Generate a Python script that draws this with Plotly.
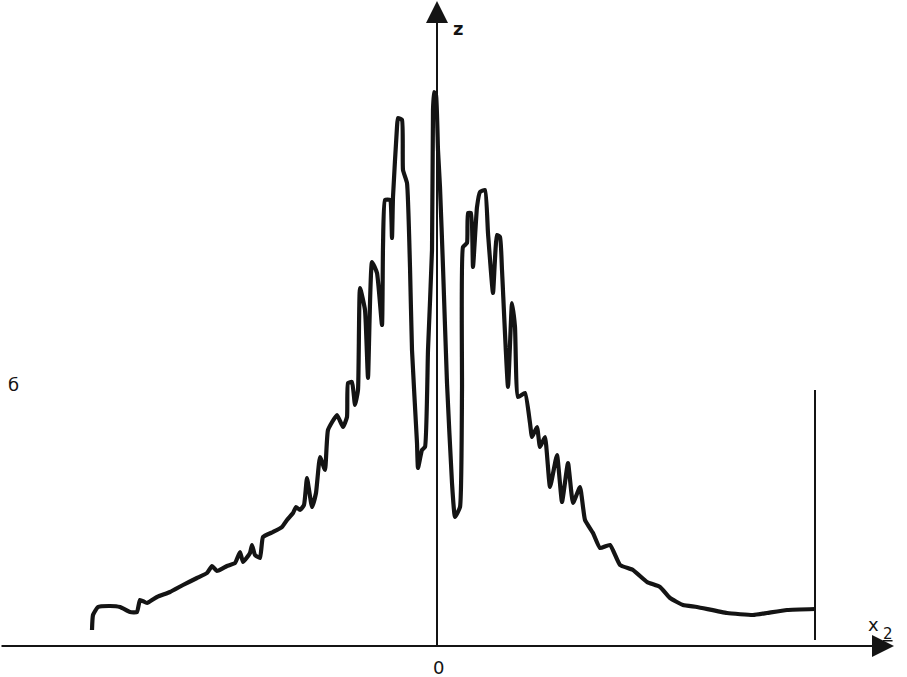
import plotly.graph_objects as go

# Curve (x2 horizontal, z vertical; arbitrary units, origin at axes crossing)
px = [92, 93, 98, 110, 120, 130, 137, 140, 147, 157, 170, 183, 197, 207, 212, 217, 227, 235,
      240, 243, 250, 252, 255, 260, 263, 273, 282, 287, 293, 296, 300, 304, 307, 312, 316, 320,
      325, 328, 337, 343, 347, 348, 352, 355, 358, 360, 365, 368, 372, 377, 382, 383, 385, 390,
      392, 393, 397, 398, 402, 403, 407, 410, 412, 417, 418, 422, 425, 428, 432, 433, 434, 436,
      438, 440, 443, 447, 452, 455, 460, 462, 463, 467, 468, 471, 473, 477, 480, 485, 488, 493,
      497, 500, 502, 508, 512, 515, 518, 525, 530, 532, 537, 540, 545, 550, 557, 562, 568, 573,
      580, 585, 593, 600, 610, 620, 633, 647, 660, 670, 683, 697, 727, 753, 767, 787, 815]
py = [630, 615, 607, 606, 607, 612, 612, 600, 603, 597, 592, 585, 578, 573, 566, 571, 566, 563,
      552, 562, 553, 545, 555, 558, 537, 532, 527, 520, 513, 507, 510, 505, 478, 507, 493, 457,
      470, 430, 415, 427, 417, 383, 382, 405, 390, 288, 310, 378, 262, 273, 325, 247, 200, 200,
      238, 197, 127, 118, 120, 170, 183, 267, 350, 443, 468, 450, 447, 350, 250, 110, 92, 95,
      150, 187, 267, 383, 483, 517, 507, 390, 247, 243, 213, 213, 267, 207, 192, 190, 233, 293,
      235, 237, 270, 387, 303, 327, 397, 393, 423, 437, 427, 447, 437, 487, 455, 502, 463, 503,
      487, 520, 533, 548, 545, 565, 570, 582, 587, 598, 605, 607, 613, 615, 613, 610, 609]

X0, Z0 = 437, 646
x2 = [p - X0 for p in px]
z = [Z0 - q for q in py]

x_end = 815 - X0          # right boundary line position
bound_top = Z0 - 390
x_axis_head = 894 - X0
z_axis_head = Z0 - 1

fig = go.Figure()
fig.add_trace(go.Scatter(x=x2, y=z, mode="lines",
                         line=dict(color="#141414", width=4.2, shape="spline", smoothing=0.4),
                         hoverinfo="skip", showlegend=False))
# right boundary line
fig.add_trace(go.Scatter(x=[x_end, x_end], y=[bound_top, 6], mode="lines",
                         line=dict(color="#141414", width=2), hoverinfo="skip", showlegend=False))

# axes with arrows
fig.add_annotation(x=x_axis_head, y=0, ax=-X0, ay=0, xref="x", yref="y", axref="x", ayref="y",
                   showarrow=True, arrowhead=2, arrowsize=2.2, arrowwidth=2, arrowcolor="#141414", text="")
fig.add_annotation(x=0, y=z_axis_head, ax=0, ay=-2, xref="x", yref="y", axref="x", ayref="y",
                   showarrow=True, arrowhead=2, arrowsize=2.2, arrowwidth=2, arrowcolor="#141414", text="")

font = dict(family="DejaVu Sans", size=18, color="#141414")
fig.add_annotation(x=21, y=Z0 - 28, text="<b>z</b>", showarrow=False, font=font)
fig.add_annotation(x=1, y=Z0 - 667, text="0", showarrow=False, font=font)
fig.add_annotation(x=13 - X0, y=Z0 - 384, text="б", showarrow=False, font=font)
fig.add_annotation(x=873 - X0, y=Z0 - 624, text="x", showarrow=False, font=font)
fig.add_annotation(x=888 - X0, y=Z0 - 634, text="<u>2</u>", showarrow=False,
                   font=dict(family="DejaVu Sans", size=15, color="#141414"))

fig.update_layout(
    width=907, height=677, margin=dict(l=0, r=0, t=0, b=0),
    paper_bgcolor="white", plot_bgcolor="white",
    xaxis=dict(range=[-X0, 907 - X0], visible=False, fixedrange=True),
    yaxis=dict(range=[Z0 - 677, Z0], visible=False, fixedrange=True),
)
fig.write_html("out.html", config={"displayModeBar": False},
               post_script="document.body.style.margin='0px';document.body.style.overflow='hidden';")
